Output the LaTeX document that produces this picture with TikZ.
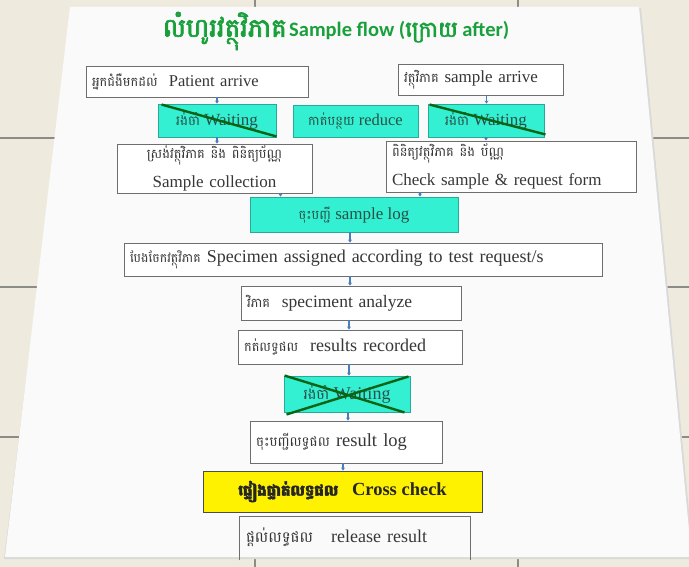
\documentclass[tikz,border=0pt]{standalone}
\usepackage{fontspec}
\setmainfont{Liberation Serif}
\newfontfamily\khm[Script=Khmer]{Battambang}
\newfontfamily\khmb[Script=Khmer,FakeBold=2.5]{Battambang}
\newfontfamily\carl{Carlito}
\usetikzlibrary{arrows.meta}
\definecolor{bgbeige}{RGB}{238,235,222}
\definecolor{tileline}{RGB}{140,140,135}
\definecolor{slidewhite}{RGB}{250,250,250}
\definecolor{boxgray}{RGB}{110,110,110}
\definecolor{txtgray}{RGB}{55,55,55}
\definecolor{cyanfill}{RGB}{52,240,210}
\definecolor{cyanedge}{RGB}{40,170,150}
\definecolor{cyantext}{RGB}{40,80,70}
\definecolor{crossgreen}{RGB}{10,100,20}
\definecolor{titlegreen}{RGB}{25,160,60}
\definecolor{yellowfill}{RGB}{255,242,0}
\definecolor{connblue}{RGB}{74,126,187}
\newcommand{\kmtxt}[2][13]{{\khm\fontsize{#1}{15}\selectfont #2}}
\tikzset{
  bx/.style={draw=boxgray, fill=white, line width=0.9pt, inner xsep=6pt, inner ysep=0pt,
    text=txtgray, font=\fontsize{16.5}{26}\selectfont},
  fsz/.style={font=\fontsize{#1}{26}\selectfont},
  fszw/.style={font=\fontsize{#1}{29}\selectfont},
  cbx/.style={bx, draw=cyanedge, fill=cyanfill, text=cyantext},
  ybx/.style={bx, draw=black!70, fill=yellowfill, text=black!85, font=\bfseries\fontsize{18.5}{24}\selectfont},
  xline/.style={draw=crossgreen, line width=2.4pt},
  conn/.style={draw=connblue, line width=1.1pt, -{Stealth[length=3pt,width=4pt]}},
}
\begin{document}
\begin{tikzpicture}[x=1pt,y=-1pt]
\useasboundingbox (0,0) rectangle (689,567);
% background tiles
\fill[bgbeige] (0,0) rectangle (689,567);
\foreach \yy in {138,287,437} \draw[tileline, line width=1.4pt] (0,\yy) -- (689,\yy);
\foreach \xx in {255,518} \draw[tileline, line width=1.4pt] (\xx,0) -- (\xx,567);
% slide
\fill[black!15] (72,8) -- (641,8) -- (691,532) -- (691,559) -- (4,559) -- cycle;
\fill[slidewhite] (70,7) -- (639,7) -- (689,530) -- (689,557) -- (5,557) -- cycle;

% title
\node (title) at (336,31) {\textcolor{titlegreen}{{\khmb\fontsize{26}{28}\selectfont លំហូរវត្ថុវិភាគ}\ {\carl\bfseries\fontsize{20.5}{22}\selectfont Sample flow (}{\khmb\fontsize{22}{24}\selectfont ក្រោយ}{\carl\bfseries\fontsize{20.5}{22}\selectfont\ after)}}};

% top row
\node[bx, minimum width=222pt, minimum height=31pt, text width=210pt, align=left] (pa) at (197,81.5)
  {\kmtxt{អ្នកជំងឺមកដល់}\ \ Patient arrive};
\node[bx, fsz=17, minimum width=165pt, minimum height=31pt, text width=153pt, align=left] (sa) at (480.5,79.5)
  {\kmtxt{វត្ថុវិភាគ} sample arrive};

% waiting / reduce row
\node[cbx, fsz=17, minimum width=118pt, minimum height=33pt, align=center] (w1) at (217,120.5)
  {\kmtxt[13.5]{រង់ចាំ} Waiting};
\node[cbx, fsz=16.5, minimum width=125pt, minimum height=32pt, align=center] (rd) at (355.5,121)
  {\kmtxt{កាត់បន្ថយ} reduce};
\node[cbx, fsz=17, minimum width=116pt, minimum height=33pt, align=center] (w2) at (486,120.5)
  {\kmtxt[13.5]{រង់ចាំ} Waiting};
\draw[xline] ([shift={(4,1)}]w1.north west) -- ([shift={(0,-1)}]w1.south east);
\draw[xline] ([shift={(2,1)}]w2.north west) -- ([shift={(1,-3)}]w2.south east);

% collection / check
\node[bx, fszw=17, minimum width=195pt, minimum height=49pt, text width=183pt, align=center] (sc) at (214.5,168.5)
  {\kmtxt{ស្រង់វត្ថុវិភាគ និង ពិនិត្យប័ណ្ណ}\\Sample collection};
\node[bx, fszw=17, minimum width=250pt, minimum height=51pt, text width=238pt, align=left] (ck) at (511,166.5)
  {\kmtxt{ពិនិត្យវត្ថុវិភាគ និង ប័ណ្ណ}\\Check sample \& request form};

% sample log
\node[cbx, fsz=17, minimum width=208pt, minimum height=35pt, align=center] (log) at (354,214.5)
  {\kmtxt{ចុះបញ្ជី} sample log};

% specimen assigned
\node[bx, fsz=18, minimum width=478pt, minimum height=33pt, text width=466pt, align=left] (sp) at (363,259.5)
  {\kmtxt[12.5]{បែងចែកវត្ថុវិភាគ} Specimen assigned according to test request/s};

% analyze / recorded
\node[bx, fsz=17.5, minimum width=220pt, minimum height=34pt, text width=208pt, align=left] (an) at (351,303)
  {\kmtxt{វិភាគ}\ \ speciment analyze};
\node[bx, fsz=18, minimum width=224pt, minimum height=34pt, text width=212pt, align=left] (rr) at (350,347)
  {\kmtxt{កត់លទ្ធផល}\ \ results recorded};

% waiting 3
\node[cbx, fsz=18, minimum width=126pt, minimum height=36pt, align=center] (w3) at (347,394)
  {\kmtxt[14.5]{រង់ចាំ} Waiting};
\draw[xline] ([shift={(1,0)}]w3.north west) -- ([shift={(-6,0)}]w3.south east);
\draw[xline] ([shift={(3,2)}]w3.south west) -- ([shift={(-2,1)}]w3.north east);

% result log
\node[bx, fsz=18.5, minimum width=192pt, minimum height=42pt, text width=180pt, align=left] (rl) at (346,442)
  {\kmtxt[13.5]{ចុះបញ្ជីលទ្ធផល} result log};

% cross check
\node[ybx, minimum width=279pt, minimum height=41pt, align=center] (cc) at (342.5,491.5)
  {{\khmb\fontsize{15}{17}\selectfont ផ្ទៀងផ្ទាត់លទ្ធផល}\ \ \ Cross check};

% release result (cut off by slide edge)
\node[bx, fsz=18, draw=none, fill=none, minimum width=230pt, minimum height=40pt, text width=218pt, align=left] (rel) at (355,537)
  {\kmtxt[15]{ផ្តល់លទ្ធផល}\ \ \ release result};
\draw[boxgray, line width=0.9pt] ([yshift=-3]rel.south west) -- (rel.north west) -- (rel.north east) -- ([yshift=-3]rel.south east);

% connectors
\draw[conn] (pa.south -| w1.north) -- (w1.north);
\draw[conn] (w1.south) -- (w1.south |- sc.north);
\draw[conn] ([xshift=6]sa.south) -- ([xshift=6]sa.south |- w2.north);
\draw[conn] ([xshift=0]w2.south) -- (w2.south |- ck.north);
\draw[conn] ([xshift=66]sc.south) -- ([xshift=66]sc.south |- log.north);
\draw[conn] ([xshift=-91]ck.south) -- ([xshift=-91]ck.south |- log.north);
\draw[conn] ([xshift=-4]log.south) -- ([xshift=-4]log.south |- sp.north);
\draw[conn] ([xshift=-13]sp.south) -- ([xshift=-13]sp.south |- an.north);
\draw[conn] ([xshift=-2]an.south) -- ([xshift=-2]an.south |- rr.north);
\draw[conn] ([xshift=-1]rr.south) -- ([xshift=-1]rr.south |- w3.north);
\draw[conn] ([xshift=1]w3.south) -- ([xshift=1]w3.south |- rl.north);
\draw[conn] ([xshift=-3]rl.south) -- ([xshift=-3]rl.south |- cc.north);
\end{tikzpicture}
\end{document}
